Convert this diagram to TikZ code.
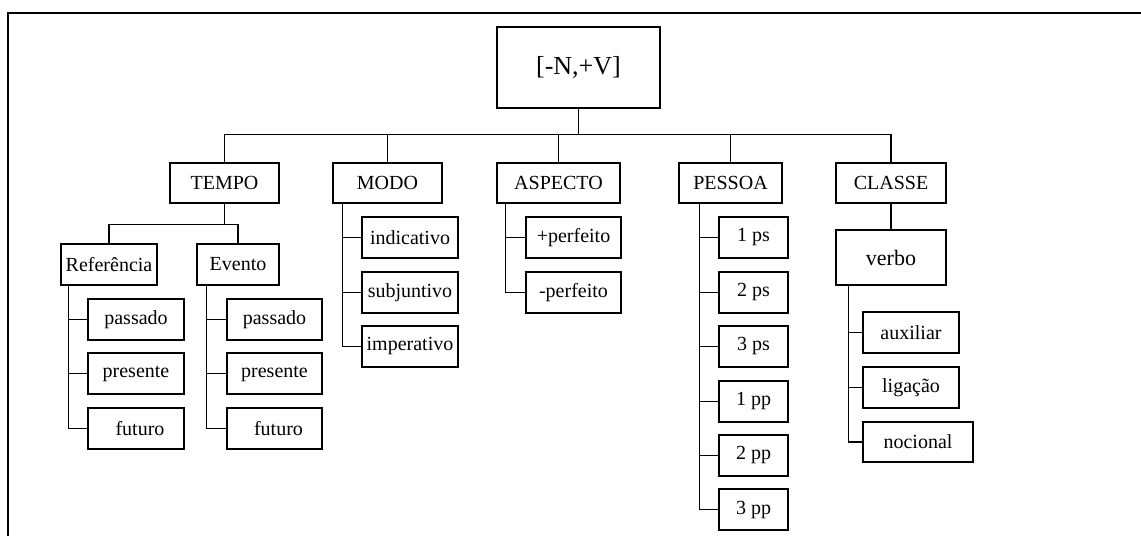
\documentclass[tikz,border=0pt]{standalone}
\usepackage{fontspec}
\setmainfont{Liberation Serif}
\begin{document}
\begin{tikzpicture}[x=1pt,y=-1pt,
  bx/.style={draw,line width=1.3pt,inner sep=0pt,font=\fontsize{20}{24}\selectfont},
  conn/.style={line width=1.6pt},
  frame/.style={line width=1.2pt}]
\useasboundingbox (0,0) rectangle (1141,536);
\coordinate (ftr) at (1141,13);
\coordinate (ftl) at (8,13);
\coordinate (fbl) at (8,536);
\draw[frame] (ftr) -- (ftl) -- (fbl);
% root
\node[bx,minimum width=163pt,minimum height=81pt,font=\fontsize{26}{30}\selectfont] (root) at (578.5,67.5) {[-N,+V]};
% level 1
\node[bx,minimum width=109pt,minimum height=40pt] (tempo) at (224.5,183) {TEMPO};
\node[bx,minimum width=109pt,minimum height=40pt] (modo) at (387.5,183) {MODO};
\node[bx,minimum width=123pt,minimum height=40pt] (aspecto) at (558.5,183) {ASPECTO};
\node[bx,minimum width=103pt,minimum height=40pt] (pessoa) at (730.5,183) {PESSOA};
\node[bx,minimum width=110pt,minimum height=40pt] (classe) at (891,183) {CLASSE};
% bus
\draw[conn] (tempo.north) -- ++(0,-28) coordinate (busl) -| (classe.north);
\draw[conn] (root.south) -- (root.south |- busl);
\draw[conn] (modo.north) -- (modo.north |- busl);
\draw[conn] (aspecto.north) -- (aspecto.north |- busl);
\draw[conn] (pessoa.north) -- (pessoa.north |- busl);
% TEMPO
\node[bx,minimum width=96pt,minimum height=41pt] (ref) at (109,264.5) {Referência};
\node[bx,minimum width=82pt,minimum height=41pt] (ev) at (238,264.5) {Evento};
\draw[conn] (tempo.south) -- ++(0,21) coordinate (tj);
\draw[conn] (ref.north) |- (tj) -| (ev.north);
\node[bx,minimum width=96pt,minimum height=41pt] (rpas) at (136,319.5) {passado};
\node[bx,minimum width=96pt,minimum height=41pt] (rpre) at (136,373.5) {presente};
\node[bx,minimum width=96pt,minimum height=41pt] (rfut) at (136,428.5) {\hspace*{8pt}futuro};
\coordinate (rv) at ([xshift=8pt]ref.south west);
\draw[conn] (rv) |- (rfut.west);
\draw[conn] (rpas.west) -- (rpas.west -| rv);
\draw[conn] (rpre.west) -- (rpre.west -| rv);
\node[bx,minimum width=95pt,minimum height=41pt] (epas) at (274.5,319.5) {passado};
\node[bx,minimum width=95pt,minimum height=41pt] (epre) at (274.5,373.5) {presente};
\node[bx,minimum width=95pt,minimum height=41pt] (efut) at (274.5,428.5) {\hspace*{8pt}futuro};
\coordinate (evv) at ([xshift=10pt]ev.south west);
\draw[conn] (evv) |- (efut.west);
\draw[conn] (epas.west) -- (epas.west -| evv);
\draw[conn] (epre.west) -- (epre.west -| evv);
% MODO
\node[bx,minimum width=96pt,minimum height=41pt] (ind) at (410,237.5) {indicativo};
\node[bx,minimum width=96pt,minimum height=41pt] (sub) at (410,292.5) {subjuntivo};
\node[bx,minimum width=96pt,minimum height=41pt] (imp) at (410,346.5) {imperativo};
\coordinate (mv) at ([xshift=10pt]modo.south west);
\draw[conn] (mv) |- (imp.west);
\draw[conn] (ind.west) -- (ind.west -| mv);
\draw[conn] (sub.west) -- (sub.west -| mv);
% ASPECTO
\node[bx,minimum width=95pt,minimum height=41pt] (pper) at (573.5,237.5) {+perfeito};
\node[bx,minimum width=95pt,minimum height=41pt] (mper) at (573.5,292.5) {-perfeito};
\coordinate (av) at ([xshift=9pt]aspecto.south west);
\draw[conn] (av) |- (mper.west);
\draw[conn] (pper.west) -- (pper.west -| av);
% PESSOA
\node[bx,minimum width=69pt,minimum height=41pt] (ps1) at (753.5,237.5) {1 ps};
\node[bx,minimum width=69pt,minimum height=41pt] (ps2) at (753.5,292.5) {2 ps};
\node[bx,minimum width=69pt,minimum height=41pt] (ps3) at (753.5,346.5) {3 ps};
\node[bx,minimum width=69pt,minimum height=41pt] (pp1) at (753.5,401.5) {1 pp};
\node[bx,minimum width=69pt,minimum height=41pt] (pp2) at (753.5,455.5) {2 pp};
\node[bx,minimum width=69pt,minimum height=41pt] (pp3) at (753.5,509.5) {3 pp};
\coordinate (pv) at ([xshift=21pt]pessoa.south west);
\draw[conn] (pv) |- (pp3.west);
\draw[conn] (ps1.west) -- (ps1.west -| pv);
\draw[conn] (ps2.west) -- (ps2.west -| pv);
\draw[conn] (ps3.west) -- (ps3.west -| pv);
\draw[conn] (pp1.west) -- (pp1.west -| pv);
\draw[conn] (pp2.west) -- (pp2.west -| pv);
% CLASSE
\node[bx,minimum width=110pt,minimum height=55pt,font=\fontsize{22}{26}\selectfont] (verbo) at (891,257.5) {verbo};
\draw[conn] (classe.south) -- (verbo.north);
\node[bx,minimum width=96pt,minimum height=41pt] (aux) at (911,332.5) {auxiliar};
\node[bx,minimum width=96pt,minimum height=41pt] (lig) at (911,387.5) {ligação};
\node[bx,minimum width=110pt,minimum height=40pt] (noc) at (918,442) {nocional};
\coordinate (vv) at ([xshift=13pt]verbo.south west);
\draw[conn] (vv) |- (noc.west);
\draw[conn] (aux.west) -- (aux.west -| vv);
\draw[conn] (lig.west) -- (lig.west -| vv);
\end{tikzpicture}
\end{document}
